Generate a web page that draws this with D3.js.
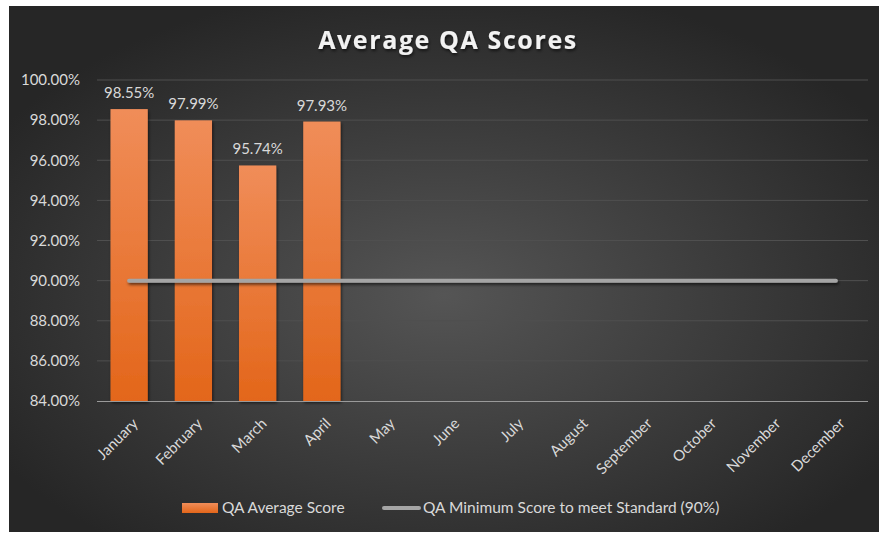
<!DOCTYPE html>
<html><head><meta charset="utf-8">
<script src="https://cdn.jsdelivr.net/npm/d3@7"></script>
<style>html,body{margin:0;padding:0;background:#fff;}svg{display:block;}</style>
</head><body>
<svg id="chart" width="879" height="533"></svg>
<script>
const months = ["January","February","March","April","May","June","July","August","September","October","November","December"];
const avgScore = [98.55, 97.99, 95.74, 97.93];
const minStandard = [90,90,90,90,90,90,90,90,90,90,90,90];
const yTicks = [84,86,88,90,92,94,96,98,100];
const title = "Average QA Scores";
const legendLabels = ["QA Average Score","QA Minimum Score to meet Standard (90%)"];

(function(){
const svg = d3.select("#chart");
const defs = svg.append("defs");
const bg = defs.append("radialGradient").attr("id","bg").attr("cx","50%").attr("cy","55%").attr("r","60%");
bg.append("stop").attr("offset","0%").attr("stop-color","#555555");
bg.append("stop").attr("offset","100%").attr("stop-color","#262626");
const bar = defs.append("linearGradient").attr("id","bar").attr("x1",0).attr("y1",0).attr("x2",0).attr("y2",1);
bar.append("stop").attr("offset","0%").attr("stop-color","#f08d59");
bar.append("stop").attr("offset","100%").attr("stop-color","#e3661a");
const sh = defs.append("filter").attr("id","sh").attr("filterUnits","userSpaceOnUse")
  .attr("x",0).attr("y",0).attr("width",879).attr("height",533);
sh.append("feDropShadow").attr("dx",1).attr("dy",2).attr("stdDeviation",1.5).attr("flood-color","#000").attr("flood-opacity",0.6);

svg.append("rect").attr("x",9).attr("y",6).attr("width",870).attr("height",526).attr("fill","url(#bg)");

const pl = 97, pr = 868, pt = 80, pb = 401;
const font = "Lato, 'Open Sans', sans-serif";
const x = d3.scaleBand().domain(months).range([pl,pr]).paddingInner(0.42).paddingOuter(0.21);
const y = d3.scaleLinear().domain([84,100]).range([pb,pt]);

svg.append("g").selectAll("line").data(yTicks.slice(1)).join("line")
  .attr("x1",pl).attr("x2",pr).attr("y1",d=>y(d)).attr("y2",d=>y(d))
  .attr("stroke","#4f4f4f").attr("stroke-width",1);

const yAxis = d3.axisLeft(y).tickValues(yTicks).tickSize(0).tickPadding(0).tickFormat(d=>d.toFixed(2)+"%");
const gy = svg.append("g").attr("transform",`translate(${pl-17},0)`).call(yAxis);
gy.select(".domain").remove();
gy.selectAll("text").attr("fill","#d9d9d9").style("font-family",font).style("font-size","15px");

svg.append("g").selectAll("rect").data(avgScore).join("rect")
  .attr("x",(d,i)=>x(months[i])).attr("width",x.bandwidth())
  .attr("y",d=>y(d)).attr("height",d=>pb-y(d))
  .attr("fill","url(#bar)").attr("filter","url(#sh)");

svg.append("line").attr("x1",pl).attr("x2",pr).attr("y1",pb+0.5).attr("y2",pb+0.5).attr("stroke","#9a9a9a").attr("stroke-width",1.2);

svg.append("g").selectAll("text").data(avgScore).join("text")
  .attr("x",(d,i)=>x(months[i])+x.bandwidth()/2).attr("y",d=>y(d)-11)
  .attr("text-anchor","middle").attr("fill","#d9d9d9")
  .style("font-family",font).style("font-size","15px")
  .text(d=>d.toFixed(2)+"%");

const line = d3.line().x((d,i)=>x(months[i])+x.bandwidth()/2).y(d=>y(d));
svg.append("path").datum(minStandard).attr("d",line).attr("fill","none")
  .attr("stroke","#a5a5a5").attr("stroke-width",4).attr("stroke-linecap","round").attr("filter","url(#sh)");

const xAxis = d3.axisBottom(x).tickSize(0).tickPadding(0);
const gx = svg.append("g").attr("transform",`translate(2,${pb+24})`).call(xAxis);
gx.select(".domain").remove();
gx.selectAll("text").attr("fill","#d9d9d9").style("font-family",font).style("font-size","15px")
  .attr("text-anchor","end").attr("dy","0.35em").attr("dx","6").attr("y",0)
  .attr("transform","rotate(-45)");

svg.append("text").attr("x",448).attr("y",49).attr("text-anchor","middle")
  .attr("fill","#f2f2f2").style("font-family","'Open Sans', sans-serif").style("font-weight","bold")
  .style("font-size","25px").style("letter-spacing","1.6px").attr("filter","url(#sh)").text(title);

const lg = svg.append("g");
lg.append("rect").attr("x",182).attr("y",503).attr("width",36).attr("height",10).attr("fill","url(#bar)");
lg.append("text").attr("x",222).attr("y",513).attr("fill","#d9d9d9").style("font-family",font).style("font-size","15.5px").text(legendLabels[0]);
lg.append("line").attr("x1",384).attr("x2",419).attr("y1",508).attr("y2",508).attr("stroke","#a5a5a5").attr("stroke-width",4).attr("stroke-linecap","round");
lg.append("text").attr("x",423).attr("y",513).attr("fill","#d9d9d9").style("font-family",font).style("font-size","15.5px").text(legendLabels[1]);
})();
</script>
</body></html>
